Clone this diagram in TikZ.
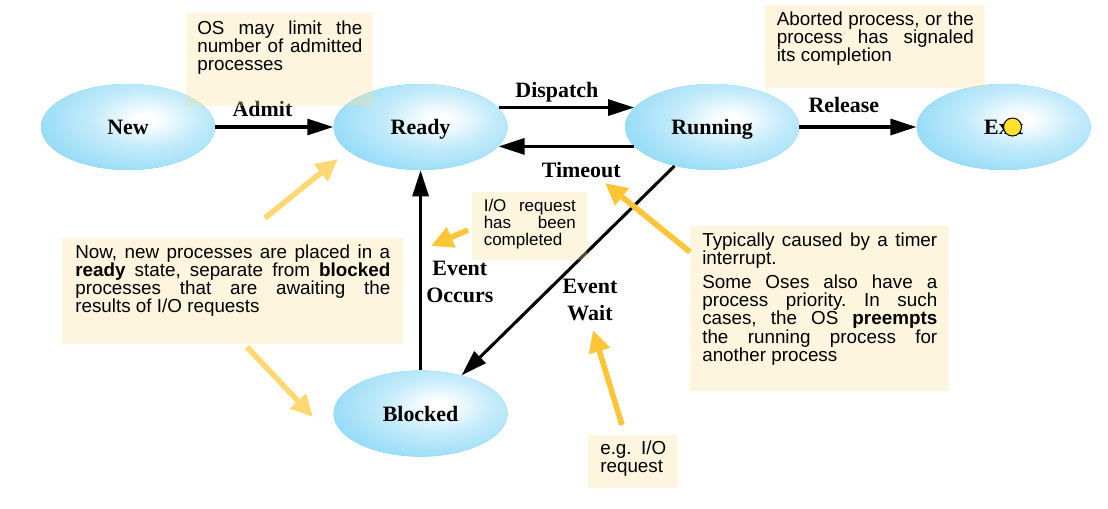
\documentclass[tikz,border=0pt]{standalone}
\usepackage{fontspec}
\setmainfont{Liberation Serif}
\setsansfont{Liberation Sans}[WordSpace={1,1.5,0}]
\usepackage{tikz}
\usetikzlibrary{arrows.meta,shapes.geometric,calc,positioning}

\definecolor{stateblue}{RGB}{86,198,242}
\definecolor{notecream}{RGB}{249,223,150}
\definecolor{hintyellow}{RGB}{255,197,55}
\definecolor{paleyellow}{RGB}{255,216,115}
\definecolor{dotyellow}{RGB}{255,226,45}

\pgfdeclareradialshading{statefill}{\pgforigin}{color(0bp)=(white); color(2bp)=(white); color(12bp)=(stateblue!35); color(28bp)=(stateblue!70); color(50bp)=(stateblue)}

\newcommand{\statefont}{\fontsize{15.6}{19.2}\selectfont\bfseries}
\newcommand{\notefont}{\sffamily\fontsize{13.4}{12.95}\selectfont}
\newcommand{\smallnotefont}{\sffamily\fontsize{12.1}{12.1}\selectfont}
\hyphenpenalty=10000
\exhyphenpenalty=10000
\tolerance=10000
\frenchspacing

\begin{document}
\begin{tikzpicture}[>={Triangle[length=0.65cm,width=0.4cm]},
		state/.style={ellipse, minimum width=4.35cm, minimum height=2.15cm, inner sep=0pt, text depth=0pt, fill=stateblue, font=\statefont,
			path picture={\shade[shading=statefill] ($(path picture bounding box.center)+(0.45,0.2)$) ellipse (2.8cm and 1.45cm);}},
		flow/.style={->, line width=2.2pt},
		flowlabel/.style={font=\statefont, inner sep=1pt, align=center},
		note/.style={anchor=north west, fill=notecream, fill opacity=0.32, text opacity=1, inner ysep=0pt, align=justify, font=\notefont},
		hint/.style={-{Triangle[length=0.55cm,width=0.52cm]}, line width=4pt, draw=hintyellow},
		palehint/.style={hint, draw=paleyellow}]
		\useasboundingbox (0,0) rectangle (27.7,-12.725);
		
		\node[state] (new) at (3.2,-3.175) {New};
		\node[state, right=2.95cm of new] (ready) {Ready};
		\node[state, right=2.925cm of ready] (running) {Running};
		\node[state, right=2.925cm of running] (exit) {Exit};
		\node[state, below=5cm of ready] (blocked) {Blocked};
		\node[circle, draw, line width=0.7pt, fill=dotyellow, minimum size=0.45cm, inner sep=0pt] (exitdot) at ($(exit.center)+(0.22,0)$) {};
		
		\draw[flow] (new) -- node[flowlabel, above=5pt, pos=0.4] {Admit} (ready);
		\draw[flow] (ready.14) -- node[flowlabel, above=2pt, pos=0.43] {Dispatch} (running.166);
		\draw[flow] (running.194) -- node[flowlabel, below=9pt, pos=0.39] {Timeout} (ready.-14);
		\draw[flow] (running) -- node[flowlabel, above=8pt, pos=0.38] {Release} (exit);
		\draw[flow] (running.226) -- (blocked.43);
		\draw[flow] (blocked) -- node[flowlabel, right=2pt, pos=0.44] {Event\\Occurs} (ready);
		\node[flowlabel] (waitlabel) at (14.75,-7.5) {Event\\Wait};
		
		\node[note, text width=4.125cm, inner xsep=0.275cm, text height=0.525cm, text depth=1.8cm] (admitnote) at (4.65,-0.325) {OS may limit the\linebreak number of admitted\linebreak processes};
		\node[note, text width=4.925cm, inner xsep=0.2875cm, text height=0.5cm, text depth=1.575cm] (exitnote) at (19.125,-0.125) {Aborted process, or the\linebreak process has signaled\linebreak its completion};
		\node[note, font=\smallnotefont, text width=2.3cm, inner xsep=0.2875cm, text height=0.475cm, text depth=1.225cm] (iodonenote) at (11.8,-4.8) {I/O request\linebreak has been\linebreak completed};
		\node[note, text width=7.875cm, inner xsep=0.325cm, text height=0.5cm, text depth=2.15cm] (newnote) at (1.55,-5.95) {Now, new processes are placed in a\linebreak \textbf{ready} state, separate from \textbf{blocked}\linebreak processes that are awaiting the\linebreak results of I/O requests};
		\node[note, text width=5.875cm, inner xsep=0.3cm, text height=0.5cm, text depth=3.625cm] (timeoutnote) at (17.25,-5.65) {Typically caused by a timer\linebreak interrupt.\par\vspace{4.1pt}Some Oses also have a\linebreak process priority. In such\linebreak cases, the OS \textbf{preempts}\linebreak the running process for\linebreak another process};
		\node[note, text width=1.65cm, inner xsep=0.3cm, text height=0.475cm, text depth=0.85cm] (iowaitnote) at (14.7,-10.875) {e.g. I/O\linebreak request};
		
		\coordinate (newnotetop) at (6.625,-5.45);
		\coordinate (readyhint) at (8.45,-3.975);
		\coordinate (newnotebottom) at (6.175,-8.675);
		\coordinate (blockedhint) at (7.825,-10.425);
		\coordinate (iodonestart) at (11.7,-5.75);
		\coordinate (occurshint) at (10.775,-6.15);
		\coordinate (timeoutstart) at (17.25,-6.3);
		\coordinate (timeouthint) at (15.125,-4.575);
		\coordinate (iowaitstart) at (15.55,-10.625);
		\coordinate (waithint) at (14.825,-8.25);
		
		\draw[palehint] (newnotetop) -- (readyhint);
		\draw[palehint] (newnotebottom) -- (blockedhint);
		\draw[hint] (iodonestart) -- (occurshint);
		\draw[hint] (timeoutstart) -- (timeouthint);
		\draw[hint] (iowaitstart) -- (waithint);
\end{tikzpicture}
\end{document}
